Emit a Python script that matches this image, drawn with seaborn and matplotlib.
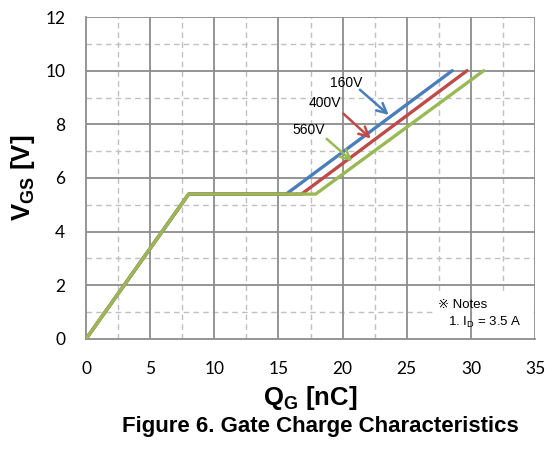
import matplotlib
matplotlib.use("Agg")
import matplotlib.pyplot as plt
from matplotlib.patches import Rectangle
import seaborn as sns
import pandas as pd

# Data
series_names = ["160V", "400V", "560V"]
qg_160 = [0, 8.0, 15.6, 28.55]
vgs_160 = [0, 5.4, 5.4, 10.0]
qg_400 = [0, 8.0, 16.8, 29.7]
vgs_400 = [0, 5.4, 5.4, 10.0]
qg_560 = [0, 8.0, 17.9, 31.0]
vgs_560 = [0, 5.4, 5.4, 10.0]
colors = ["#4a7ebb", "#be4b48", "#98b954"]

x_ticks = [0, 5, 10, 15, 20, 25, 30, 35]
y_ticks = [0, 2, 4, 6, 8, 10, 12]

rows = []
for name, xs, ys in [("160V", qg_160, vgs_160), ("400V", qg_400, vgs_400), ("560V", qg_560, vgs_560)]:
    for i, (x, y) in enumerate(zip(xs, ys)):
        rows.append({"series": name, "QG": x, "VGS": y, "order": i})
df = pd.DataFrame(rows)

sns.set_style("white")
plt.rcParams["font.family"] = ["Liberation Sans", "DejaVu Sans"]
plt.rcParams["text.color"] = "black"
plt.rcParams["axes.labelcolor"] = "black"
plt.rcParams["xtick.labelcolor"] = "black"
plt.rcParams["ytick.labelcolor"] = "black"
plt.rcParams["mathtext.fontset"] = "custom"
plt.rcParams["mathtext.rm"] = "Liberation Sans"
plt.rcParams["mathtext.bf"] = "Liberation Sans:bold"

ARIAL = ["Liberation Sans", "DejaVu Sans"]
TICKF = ["Lato", "DejaVu Sans"]

fig = plt.figure(figsize=(5.55, 4.5), dpi=100)
ax = fig.add_axes([0.155, 0.2467, 0.809, 0.7155])

# grid
for xv in [2.5 + 5 * k for k in range(7)]:
    ax.axvline(xv, color="#c0c0c0", lw=1.0, ls=(0, (4, 3)), zorder=0)
for yv in [1 + 2 * k for k in range(6)]:
    ax.axhline(yv, color="#c0c0c0", lw=1.0, ls=(0, (4, 3)), zorder=0)
for xv in x_ticks[1:]:
    ax.axvline(xv, color="#8c8c8c", lw=1.3, zorder=0.5)
for yv in y_ticks[1:]:
    ax.axhline(yv, color="#8c8c8c", lw=1.3, zorder=0.5)

# white notes background hiding the dashed grid
ax.add_patch(Rectangle((27.05, 0.05), 7.55, 1.6, facecolor="white", edgecolor="none", zorder=0.2))

sns.lineplot(data=df, x="QG", y="VGS", hue="series", hue_order=series_names,
             palette=colors, sort=False, estimator=None, units="series",
             lw=2.4, legend=False, ax=ax, zorder=3)

ax.set_xlim(0, 35)
ax.set_ylim(0, 12)
ax.set_xticks(x_ticks)
ax.set_yticks(y_ticks)
ax.set_xticklabels([str(v) for v in x_ticks], family=TICKF, fontsize=12.5)
ax.set_yticklabels([str(v) for v in y_ticks], family=TICKF, fontsize=12.5)
ax.tick_params(axis="both", direction="out", length=5, width=1.2, color="#8c8c8c")
ax.tick_params(axis="y", pad=10)
ax.tick_params(axis="x", pad=11)
for s in ["top", "right"]:
    ax.spines[s].set_visible(False)
for s in ["left", "bottom"]:
    ax.spines[s].set_color("#8c8c8c")
    ax.spines[s].set_linewidth(1.3)

ax.set_xlabel("Q$_{\\mathbf{G}}$ [nC]", fontsize=18.5, fontweight="bold", labelpad=5, family=ARIAL)
ax.set_ylabel("V$_{\\mathbf{GS}}$ [V]", fontsize=18.5, fontweight="bold", labelpad=6, family=ARIAL)

# annotations
ann = [
    ("160V", (20.3, 9.54), (21.35, 9.29), (23.6, 8.35), colors[0]),
    ("400V", (18.63, 8.79), (20.06, 8.40), (22.2, 7.47), colors[1]),
    ("560V", (17.33, 7.80), (18.76, 7.46), (20.75, 6.62), colors[2]),
]
for label, tpos, start, end, c in ann:
    ax.text(tpos[0], tpos[1], label, fontsize=10, ha="center", va="center", zorder=5, family=ARIAL)
    ax.annotate("", xy=end, xytext=start,
                arrowprops=dict(arrowstyle="->,head_length=0.7,head_width=0.35", color=c, lw=1.8,
                                shrinkA=0, shrinkB=0), zorder=5)

# notes
ax.text(27.4, 1.27, "\u203b Notes", fontsize=9.5, ha="left", va="center", zorder=6,
        family=ARIAL)
ax.text(28.2, 0.6, "1. I$_{\\mathrm{D}}$ = 3.5 A", fontsize=9.5, ha="left", va="center", zorder=6,
        family=ARIAL)

fig.text(0.577, 0.053, "Figure 6. Gate Charge Characteristics", fontsize=16, fontweight="bold",
         ha="center", va="center", family=ARIAL)

fig.savefig("out.png", dpi=100)
